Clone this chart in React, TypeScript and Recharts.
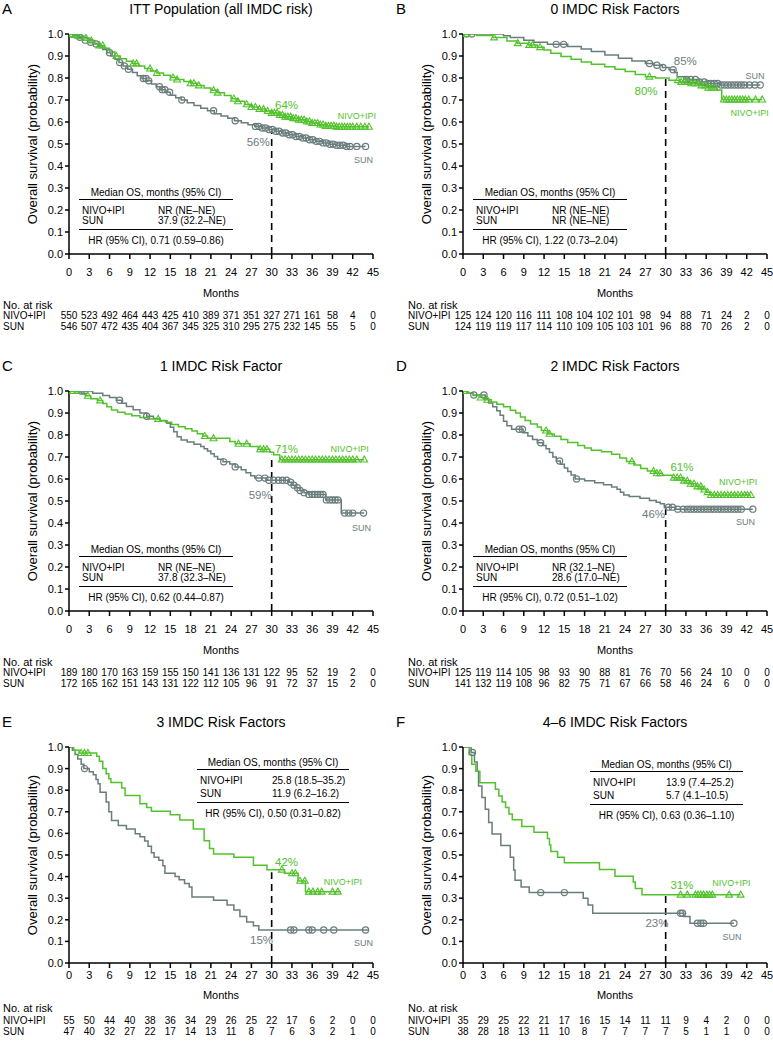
import React from 'react';
import { ComposedChart, Line, Scatter, XAxis, YAxis, ReferenceLine, ReferenceDot } from 'recharts';

type Pt = [number, number];

const FONT = '"Liberation Sans", Arial, Helvetica, sans-serif';
const GREEN = '#52C22C';
const GRAY = '#6A7D7D';

const monthTicks = [0, 3, 6, 9, 12, 15, 18, 21, 24, 27, 30, 33, 36, 39, 42, 45];
const yTicks = [0, 0.1, 0.2, 0.3, 0.4, 0.5, 0.6, 0.7, 0.8, 0.9, 1.0];

// ---------- Panel A ----------
const nivoA: Pt[] = [[0,1],[0.8,0.996],[1.5,0.99],[2.2,0.982],[3,0.97],[3.8,0.958],[4.5,0.948],[5.2,0.935],[6,0.918],[6.8,0.9],[7.6,0.888],[8.5,0.876],[9.4,0.866],[10.3,0.855],[11.2,0.843],[12.1,0.832],[13,0.823],[14,0.812],[15,0.802],[16,0.793],[17,0.784],[18,0.776],[19,0.766],[20,0.755],[21,0.744],[22,0.733],[23,0.72],[24,0.706],[25,0.694],[26,0.68],[27,0.668],[28,0.659],[29,0.65],[30,0.641],[31,0.632],[32,0.624],[33,0.617],[34,0.61],[35,0.602],[36,0.595],[37,0.588],[38,0.582],[39.5,0.578],[44.4,0.578]];
const sunA: Pt[] = [[0,1],[0.7,0.995],[1.4,0.985],[2.1,0.972],[2.8,0.962],[3.6,0.955],[4.3,0.945],[5,0.93],[5.6,0.915],[6.2,0.9],[6.8,0.885],[7.4,0.87],[8,0.855],[8.7,0.84],[9.4,0.825],[10.1,0.81],[10.8,0.798],[11.5,0.787],[12.2,0.773],[12.9,0.76],[13.6,0.747],[14.3,0.735],[15,0.722],[15.8,0.71],[16.6,0.7],[17.5,0.688],[18.5,0.675],[19.5,0.663],[20.5,0.651],[21.5,0.638],[22.5,0.627],[23.5,0.617],[24.5,0.606],[25.5,0.597],[26.5,0.588],[27.5,0.58],[28.5,0.573],[29.5,0.566],[30.5,0.558],[31.5,0.55],[32.5,0.542],[33.5,0.534],[34.5,0.527],[35.5,0.519],[36.5,0.512],[37.5,0.505],[38.5,0.499],[39.5,0.494],[41,0.489],[43.9,0.489]];
const nivoCensA = [0.4,0.9,1.6,2.5,3.3,4.5,5,7,9.5,10,12,13,15.4,16,18,18.5,19.2,21.4,22,24.4,25,26.3,27,27.6,28.2,28.8,29.4,30,30.4,30.8,31.2,31.6,32,32.4,32.8,33.2,33.6,34,34.4,34.8,35.2,35.6,36,36.4,36.8,37.2,37.6,38,38.4,38.8,39.2,39.6,40,40.4,40.8,41.2,41.6,42,42.6,43.2,43.8,44.4];
const sunCensA = [0.4,1,1.6,2.4,3.2,4,6,7.5,8.2,8.8,11,11.4,11.8,13.4,13.8,14.2,14.9,16.7,21.4,24.6,27.6,28.1,28.6,29.1,29.6,30.1,30.6,31.1,31.6,32.1,32.6,33.1,33.6,34.1,34.6,35.1,35.6,36.1,36.6,37.1,37.6,38.1,38.6,39.1,39.6,40.1,40.6,41.1,41.6,42.6,43.9];
const riskNivoA = [550,523,492,464,443,425,410,389,371,351,327,271,161,58,4,0];
const riskSunA = [546,507,472,435,404,367,345,325,310,295,275,232,145,55,5,0];
const medA = ['NR (NE–NE)', '37.9 (32.2–NE)', 'HR (95% CI), 0.71 (0.59–0.86)'];
const labA: [number, number, string, 'n' | 's', number][] = [[30.5,0.68,'64%','n',11.5],[26.3,0.51,'56%','s',11.5],[39.8,0.63,'NIVO+IPI','n',9],[42.2,0.43,'SUN','s',9]];

// ---------- Panel B ----------
const nivoB: Pt[] = [[0,1],[2,0.993],[4.4,0.984],[6.5,0.968],[8,0.958],[9.7,0.95],[11,0.94],[12,0.927],[13,0.913],[14.5,0.898],[16,0.885],[17.5,0.873],[19,0.862],[21,0.851],[22.5,0.84],[24,0.829],[25.5,0.816],[27,0.806],[28.5,0.8],[30.5,0.79],[32,0.782],[33.5,0.776],[35,0.766],[36.3,0.756],[37.5,0.745],[38.3,0.702],[44.3,0.702]];
const sunB: Pt[] = [[0,1],[6,0.992],[7,0.984],[9,0.972],[10.5,0.962],[12.5,0.953],[15.5,0.943],[17.5,0.932],[19,0.92],[21,0.905],[23,0.89],[25,0.877],[27,0.866],[28.3,0.858],[29.5,0.848],[30.5,0.838],[31.3,0.825],[31.7,0.806],[33,0.793],[35,0.782],[36.2,0.775],[38,0.768],[44,0.768]];
const nivoCensB = [0.6,4.6,8.1,9.8,10.3,11.4,27.6,31.8,32.3,32.8,33.3,33.8,34.3,34.8,35.3,35.8,36.3,36.8,37.3,38.6,39,39.4,39.8,40.2,40.6,41,41.4,41.8,42.3,43.3,44.3];
const sunCensB = [0.5,1.3,13.8,14.9,27.6,28.7,29.6,31.1,33.1,33.7,34.4,35,35.7,36.2,36.7,37.2,37.7,38.2,38.7,39.2,39.7,40.2,40.7,41.2,41.7,42.4,43.2,44];
const riskNivoB = [125,124,120,116,111,108,104,102,101,98,94,88,71,24,2,0];
const riskSunB = [124,119,119,117,114,110,109,105,103,101,96,88,70,26,2,0];
const medB = ['NR (NE–NE)', 'NR (NE–NE)', 'HR (95% CI), 1.22 (0.73–2.04)'];
const labB: [number, number, string, 'n' | 's', number][] = [[31.2,0.88,'85%','s',11.5],[25.4,0.74,'80%','n',11.5],[41.8,0.81,'SUN','s',9],[39.6,0.64,'NIVO+IPI','n',9]];

// ---------- Panel C ----------
const nivoC: Pt[] = [[0,1],[1.6,0.99],[2.4,0.978],[3.2,0.965],[4.2,0.957],[5,0.943],[5.6,0.928],[6.3,0.914],[7.2,0.903],[8.3,0.895],[9.3,0.888],[10.5,0.88],[11.7,0.873],[13.5,0.866],[14.3,0.858],[15.2,0.848],[16.2,0.838],[17.2,0.828],[18.2,0.818],[19,0.806],[19.8,0.795],[20.5,0.785],[23.8,0.77],[24.6,0.76],[26.8,0.748],[28,0.735],[29.7,0.722],[30.3,0.71],[31.2,0.688],[43.7,0.688]];
const sunC: Pt[] = [[0,1],[3.5,0.99],[5,0.98],[6,0.97],[7,0.958],[7.8,0.944],[8.5,0.93],[9.5,0.915],[10.5,0.9],[11.5,0.885],[12.5,0.875],[13.5,0.865],[14.5,0.853],[15,0.835],[15.5,0.815],[16,0.792],[16.6,0.777],[17.5,0.768],[18.5,0.758],[19.5,0.748],[20,0.738],[20.5,0.727],[21,0.715],[21.5,0.702],[22,0.69],[22.8,0.678],[23.8,0.668],[24.6,0.655],[25.5,0.642],[26.2,0.628],[26.9,0.615],[27.5,0.604],[29.2,0.594],[32.5,0.585],[33,0.572],[33.6,0.56],[34.2,0.548],[34.8,0.538],[35.5,0.53],[38,0.505],[40.3,0.445],[43.7,0.445]];
const nivoCensC = [0.6,1.2,2.8,4.6,13.2,20.1,21.4,25.1,26.3,28.3,28.8,29.3,31.5,32,32.5,33,33.5,34,34.5,35,35.5,36,36.5,37,37.5,38,38.5,39,39.5,40,40.5,41,41.5,42,42.6,43.7];
const sunCensC = [1.8,2.3,7.5,11.5,22.9,24.6,28.1,29,29.6,30.3,31,31.6,32.2,32.8,33.3,33.8,34.2,34.8,35.5,36,36.4,36.8,37.2,37.6,38.1,38.6,39,39.4,39.8,40.8,41.4,42,43.6];
const riskNivoC = [189,180,170,163,159,155,150,141,136,131,122,95,52,19,2,0];
const riskSunC = [172,165,162,151,143,131,122,112,105,96,91,72,37,15,2,0];
const medC = ['NR (NE–NE)', '37.8 (32.3–NE)', 'HR (95% CI), 0.62 (0.44–0.87)'];
const labC: [number, number, string, 'n' | 's', number][] = [[30.5,0.736,'71%','n',11.5],[26.6,0.53,'59%','s',11.5],[38.7,0.736,'NIVO+IPI','n',9],[41.9,0.38,'SUN','s',9]];

// ---------- Panel D ----------
const nivoD: Pt[] = [[0,1],[0.8,0.99],[1.5,0.98],[2.5,0.97],[3.2,0.96],[4.2,0.95],[5,0.94],[6,0.928],[7,0.912],[7.8,0.9],[8.5,0.882],[9.2,0.866],[10,0.85],[11,0.836],[11.6,0.82],[12.5,0.805],[13.5,0.794],[14.5,0.78],[15.5,0.766],[17,0.752],[18,0.741],[19,0.731],[20.5,0.724],[22,0.712],[23.2,0.695],[24.2,0.68],[25.3,0.664],[26.3,0.648],[27.3,0.636],[28.3,0.626],[29.5,0.617],[31,0.606],[32.5,0.592],[33.5,0.578],[34.5,0.566],[35.3,0.552],[36,0.54],[36.6,0.527],[42.6,0.527]];
const sunD: Pt[] = [[0,1],[0.6,0.99],[1.5,0.982],[3.3,0.965],[3.8,0.945],[4.4,0.928],[5,0.91],[5.5,0.89],[6,0.862],[6.5,0.842],[7.2,0.826],[8.9,0.81],[9.6,0.795],[10.3,0.78],[11,0.765],[11.8,0.752],[12.3,0.738],[12.8,0.72],[13.3,0.7],[13.8,0.682],[14.4,0.667],[15,0.65],[15.5,0.634],[16,0.618],[16.6,0.6],[18,0.592],[19.5,0.583],[20.8,0.574],[22,0.564],[22.8,0.553],[23.3,0.54],[23.8,0.527],[24.6,0.52],[26.2,0.512],[27.6,0.502],[28.6,0.494],[29.2,0.487],[29.8,0.472],[31.5,0.463],[42.9,0.463]];
const nivoCensD = [0.4,2.6,3.6,12.3,12.8,25,28.2,28.7,29.2,31.2,31.7,32.2,32.7,33.2,33.7,34.2,34.7,35.2,35.7,36.2,36.7,37.2,37.7,38.2,38.7,39.2,39.7,40.2,40.7,41.2,41.7,42.1,42.6];
const sunCensD = [1.6,3.1,8.3,8.8,11.5,14.3,16.8,30.4,31,31.8,32.6,33.2,33.7,34.2,34.7,35.2,35.7,36.2,36.7,37.2,37.7,38.2,38.7,39.2,39.7,40.2,40.7,41.2,42.9];
const riskNivoD = [125,119,114,105,98,93,90,88,81,76,70,56,24,10,0,0];
const riskSunD = [141,132,119,108,96,82,75,71,67,66,58,46,24,6,0,0];
const medD = ['NR (32.1–NE)', '28.6 (17.0–NE)', 'HR (95% CI), 0.72 (0.51–1.02)'];
const labD: [number, number, string, 'n' | 's', number][] = [[30.7,0.656,'61%','n',11.5],[26.5,0.443,'46%','s',11.5],[37.9,0.587,'NIVO+IPI','n',9],[40.4,0.405,'SUN','s',9]];

// ---------- Panel E ----------
const nivoE: Pt[] = [[0,1],[0.7,0.985],[1.5,0.972],[4.1,0.957],[4.5,0.934],[5,0.9],[5.5,0.876],[5.9,0.853],[6.2,0.836],[7.8,0.81],[8.3,0.775],[10.5,0.737],[11.5,0.72],[12.2,0.702],[15,0.686],[16.4,0.662],[18.4,0.62],[20,0.566],[20.8,0.53],[21.4,0.505],[24.4,0.49],[27.3,0.452],[29.3,0.432],[31.9,0.415],[33.9,0.38],[35,0.33],[40.2,0.33]];
const sunE: Pt[] = [[0,1],[0.5,0.985],[0.9,0.965],[1.3,0.945],[1.8,0.92],[2.2,0.9],[3,0.885],[3.6,0.872],[4,0.85],[4.3,0.83],[4.6,0.79],[5.5,0.745],[5.9,0.7],[6.3,0.66],[7.3,0.636],[8.5,0.62],[9.8,0.598],[10.5,0.584],[11.2,0.565],[11.7,0.54],[12.2,0.51],[12.6,0.49],[13.3,0.476],[13.9,0.45],[14.2,0.415],[15.7,0.4],[16.3,0.385],[17.1,0.368],[17.8,0.352],[18.2,0.306],[21.4,0.29],[23.4,0.268],[24.4,0.245],[25.3,0.215],[26.3,0.19],[27.3,0.173],[28.1,0.153],[44.3,0.153]];
const nivoCensE = [1.8,2.3,2.8,31.5,33,33.5,34.2,34.9,35.5,36.1,36.8,37.4,39,39.8];
const sunCensE = [2.3,32.8,33.3,35.5,36,37.7,39.2,43.9];
const riskNivoE = [55,50,44,40,38,36,34,29,26,25,22,17,6,2,0,0];
const riskSunE = [47,40,32,27,22,17,14,13,11,8,7,6,3,2,1,0];
const medE = ['25.8 (18.5–35.2)', '11.9 (6.2–16.2)', 'HR (95% CI), 0.50 (0.31–0.82)'];
const labE: [number, number, string, 'n' | 's', number][] = [[30.5,0.467,'42%','n',11.5],[26.8,0.107,'15%','s',11.5],[37.7,0.378,'NIVO+IPI','n',9],[42.2,0.092,'SUN','s',9]];

// ---------- Panel F ----------
const nivoF: Pt[] = [[0,1],[0.9,0.965],[1.3,0.92],[1.9,0.888],[2.5,0.834],[4.8,0.804],[5.3,0.773],[5.8,0.745],[6.3,0.72],[6.8,0.69],[7.3,0.663],[8.7,0.632],[10.5,0.605],[12.5,0.576],[12.8,0.546],[13,0.516],[14,0.49],[15,0.464],[20.2,0.433],[22.5,0.402],[25.2,0.375],[25.5,0.345],[26.5,0.316],[41.1,0.316]];
const sunF: Pt[] = [[0,1],[1.2,0.975],[1.7,0.93],[2.1,0.888],[2.3,0.82],[2.8,0.766],[3.3,0.712],[3.8,0.65],[4.3,0.597],[5.6,0.544],[7,0.49],[7.5,0.43],[7.7,0.383],[8.6,0.352],[9.8,0.326],[17.8,0.3],[18.5,0.268],[19.2,0.23],[32.7,0.215],[33.6,0.184],[40.1,0.184]];
const nivoCensF = [32.2,33.2,34.4,34.8,35.2,35.6,36.1,36.5,36.9,39.4,41.1];
const sunCensF = [1.4,11.5,15,32.2,32.5,34.7,35.2,35.6,40.1];
const riskNivoF = [35,29,25,22,21,17,16,15,14,11,11,9,4,2,0,0];
const riskSunF = [38,28,18,13,11,10,8,7,7,7,7,5,1,1,0,0];
const medF = ['13.9 (7.4–25.2)', '5.7 (4.1–10.5)', 'HR (95% CI), 0.63 (0.36–1.10)'];
const labF: [number, number, string, 'n' | 's', number][] = [[30.7,0.36,'31%','n',11.5],[27,0.184,'23%','s',11.5],[36.9,0.372,'NIVO+IPI','n',9],[38.4,0.123,'SUN','s',9]];

const letters = ['A', 'B', 'C', 'D', 'E', 'F'];
const titles = ['ITT Population (all IMDC risk)', '0 IMDC Risk Factors', '1 IMDC Risk Factor', '2 IMDC Risk Factors', '3 IMDC Risk Factors', '4–6 IMDC Risk Factors'];
const dashTops = [0.56, 0.8, 0.71, 0.47, 0.42, 0.31];

function stepAt(curve: Pt[], t: number): number {
  let v = curve[0][1];
  for (const [x, y] of curve) {
    if (x <= t) v = y;
    else break;
  }
  return v;
}

const Tri = (props: any) => {
  const { cx, cy } = props;
  if (cx == null || cy == null) return null;
  return <path d={`M${cx},${cy - 3.6}L${cx + 3.4},${cy + 2.4}L${cx - 3.4},${cy + 2.4}Z`} fill="none" stroke={GREEN} strokeWidth={1.1} />;
};
const Circ = (props: any) => {
  const { cx, cy } = props;
  if (cx == null || cy == null) return null;
  return <circle cx={cx} cy={cy} r={3.1} fill="none" stroke={GRAY} strokeWidth={1.2} />;
};

type PanelDef = {
  letter: string; title: string; nivo: Pt[]; sun: Pt[]; nivoCens: number[]; sunCens: number[];
  riskNivo: number[]; riskSun: number[]; med: string[]; labs: [number, number, string, 'n' | 's', number][];
  dashTop: number; tableLeft: number; tableTop: number; tableW: number; valOff: number; rowGap: number;
};

const panels: PanelDef[] = [
  { letter: letters[0], title: titles[0], nivo: nivoA, sun: sunA, nivoCens: nivoCensA, sunCens: sunCensA, riskNivo: riskNivoA, riskSun: riskSunA, med: medA, labs: labA, dashTop: dashTops[0], tableLeft: 79, tableTop: 200, tableW: 154, valOff: 79, rowGap: 10 },
  { letter: letters[1], title: titles[1], nivo: nivoB, sun: sunB, nivoCens: nivoCensB, sunCens: sunCensB, riskNivo: riskNivoB, riskSun: riskSunB, med: medB, labs: labB, dashTop: dashTops[1], tableLeft: 79, tableTop: 200, tableW: 154, valOff: 79, rowGap: 10 },
  { letter: letters[2], title: titles[2], nivo: nivoC, sun: sunC, nivoCens: nivoCensC, sunCens: sunCensC, riskNivo: riskNivoC, riskSun: riskSunC, med: medC, labs: labC, dashTop: dashTops[2], tableLeft: 79, tableTop: 200, tableW: 154, valOff: 79, rowGap: 10 },
  { letter: letters[3], title: titles[3], nivo: nivoD, sun: sunD, nivoCens: nivoCensD, sunCens: sunCensD, riskNivo: riskNivoD, riskSun: riskSunD, med: medD, labs: labD, dashTop: dashTops[3], tableLeft: 79, tableTop: 200, tableW: 154, valOff: 79, rowGap: 10 },
  { letter: letters[4], title: titles[4], nivo: nivoE, sun: sunE, nivoCens: nivoCensE, sunCens: sunCensE, riskNivo: riskNivoE, riskSun: riskSunE, med: medE, labs: labE, dashTop: dashTops[4], tableLeft: 197, tableTop: 57, tableW: 152, valOff: 75, rowGap: 13 },
  { letter: letters[5], title: titles[5], nivo: nivoF, sun: sunF, nivoCens: nivoCensF, sunCens: sunCensF, riskNivo: riskNivoF, riskSun: riskSunF, med: medF, labs: labF, dashTop: dashTops[5], tableLeft: 196, tableTop: 59, tableW: 153, valOff: 76, rowGap: 13 },
];

type RowLayout = { top: number; plotH: number; axH: number; tickMargin: number; monthsOff: number; noRiskOff: number };
const rowLayouts: RowLayout[] = [
  { top: 0, plotH: 220, axH: 58, tickMargin: 9, monthsOff: 15, noRiskOff: 51 },
  { top: 357, plotH: 220, axH: 58, tickMargin: 9, monthsOff: 15, noRiskOff: 51 },
  { top: 713, plotH: 216, axH: 54, tickMargin: 3, monthsOff: 18, noRiskOff: 45 },
];

const PLOT_TOP = 34;
const RISK_AX_H = 11;
const CHART_W = 388;
const RISK_FS = 10;

function Panel({ p, left, row, rowLabelX }: { p: PanelDef; left: number; row: RowLayout; rowLabelX: number }) {
  const nivoData = p.nivo.map(([t, s]) => ({ t, s }));
  const sunData = p.sun.map(([t, s]) => ({ t, s }));
  const nivoCensData = p.nivoCens.map((t) => ({ t, s: stepAt(p.nivo, t) }));
  const sunCensData = p.sunCens.map((t) => ({ t, s: stepAt(p.sun, t) }));
  const chartH = PLOT_TOP + row.plotH + row.axH + RISK_AX_H * 2 + 4;
  const riskAxis = (id: string, vals: number[]) => (
    <XAxis
      xAxisId={id}
      type="number"
      dataKey="t"
      domain={[0, 45]}
      allowDataOverflow
      ticks={monthTicks}
      interval={0}
      height={RISK_AX_H}
      axisLine={false}
      tickLine={false}
      tickSize={0}
      tickMargin={0}
      tick={{ fontSize: RISK_FS, fill: '#000' }}
      tickFormatter={(v: number) => String(vals[monthTicks.indexOf(v)] ?? '')}
    />
  );
  const plotBottom = PLOT_TOP + row.plotH;
  const rowTop = (capCenter: number, fs: number) => capCenter - 0.49 * fs;
  const tt = p.tableTop;
  const tl = p.tableLeft;
  const TFS = 10;
  const g = p.rowGap;
  return (
    <div style={{ position: 'absolute', left, top: row.top, width: CHART_W, height: 357 }}>
      <ComposedChart width={CHART_W} height={chartH} margin={{ top: PLOT_TOP, right: 15, bottom: 4, left: 0 }}>
        <XAxis
          dataKey="t"
          type="number"
          domain={[0, 45]}
          allowDataOverflow
          ticks={monthTicks}
          interval={0}
          height={row.axH}
          tickSize={5}
          tickMargin={row.tickMargin}
          axisLine={{ stroke: '#000', strokeWidth: 1.5 }}
          tickLine={{ stroke: '#000', strokeWidth: 1.5 }}
          tick={{ fontSize: 11, fill: '#000' }}
          label={{ value: 'Months', position: 'insideBottom', offset: row.monthsOff, fontSize: 11, fill: '#000' }}
        />
        {riskAxis('rn', p.riskNivo)}
        {riskAxis('rs', p.riskSun)}
        <YAxis
          dataKey="s"
          type="number"
          domain={[0, 1]}
          allowDataOverflow
          ticks={yTicks}
          interval={0}
          width={69}
          tickSize={4}
          tickMargin={2}
          axisLine={{ stroke: '#000', strokeWidth: 1.5 }}
          tickLine={{ stroke: '#000', strokeWidth: 1.5 }}
          tick={{ fontSize: 11, fill: '#000' }}
          tickFormatter={(v: number) => v.toFixed(1)}
          label={{ value: 'Overall survival (probability)', angle: -90, position: 'insideLeft', offset: 32, fontSize: 13, fill: '#000', style: { textAnchor: 'middle' } }}
        />
        <ReferenceLine
          segment={[{ x: 30, y: 0 }, { x: 30, y: p.dashTop }]}
          stroke="#000"
          strokeWidth={1.6}
          strokeDasharray="7 5"
        />
        <Line data={sunData} dataKey="s" type="stepAfter" stroke={GRAY} strokeWidth={1.5} dot={false} isAnimationActive={false} />
        <Line data={nivoData} dataKey="s" type="stepAfter" stroke={GREEN} strokeWidth={1.5} dot={false} isAnimationActive={false} />
        <Scatter data={sunCensData} dataKey="s" shape={Circ} isAnimationActive={false} />
        <Scatter data={nivoCensData} dataKey="s" shape={Tri} isAnimationActive={false} />
        {p.labs.map(([t, s, text, who, fs], i) => (
          <ReferenceDot
            key={i}
            x={t}
            y={s}
            r={0}
            shape={(props: any) => (
              <text x={props.cx} y={props.cy} dy="0.36em" fontSize={fs} fill={who === 'n' ? GREEN : GRAY} textAnchor="start">
                {text}
              </text>
            )}
          />
        ))}
      </ComposedChart>
      {/* letter and title */}
      <div style={{ position: 'absolute', left: 2, top: 1, fontSize: 15, lineHeight: '16px' }}>{p.letter}</div>
      <div style={{ position: 'absolute', left: 69, width: 304, top: 1, fontSize: 14, lineHeight: '16px', textAlign: 'center' }}>{p.title}</div>
      {/* median table */}
      <div style={{ position: 'absolute', left: tl, top: rowTop(tt - 7, TFS), width: p.tableW, fontSize: TFS, lineHeight: `${TFS}px`, textAlign: 'center', whiteSpace: 'nowrap' }}>Median OS, months (95% CI)</div>
      <div style={{ position: 'absolute', left: tl, top: tt - 0.75, width: p.tableW, borderTop: '1.5px solid #000' }} />
      <div style={{ position: 'absolute', left: tl + 3, top: rowTop(tt + 11, TFS), fontSize: TFS, lineHeight: `${TFS}px` }}>NIVO+IPI</div>
      <div style={{ position: 'absolute', left: tl + p.valOff, top: rowTop(tt + 11, TFS), fontSize: TFS, lineHeight: `${TFS}px`, whiteSpace: 'nowrap' }}>{p.med[0]}</div>
      <div style={{ position: 'absolute', left: tl + 3, top: rowTop(tt + 11 + g, TFS), fontSize: TFS, lineHeight: `${TFS}px` }}>SUN</div>
      <div style={{ position: 'absolute', left: tl + p.valOff, top: rowTop(tt + 11 + g, TFS), fontSize: TFS, lineHeight: `${TFS}px`, whiteSpace: 'nowrap' }}>{p.med[1]}</div>
      <div style={{ position: 'absolute', left: tl, top: tt + 20 + g - 0.75, width: p.tableW, borderTop: '1.5px solid #000' }} />
      <div style={{ position: 'absolute', left: tl, top: rowTop(tt + 31 + g, TFS), width: p.tableW, fontSize: TFS, lineHeight: `${TFS}px`, textAlign: 'center', whiteSpace: 'nowrap' }}>{p.med[2]}</div>
      {/* at-risk row labels */}
      <div style={{ position: 'absolute', left: rowLabelX, top: rowTop(plotBottom + row.noRiskOff, 11), fontSize: 11, lineHeight: '11px' }}>No. at risk</div>
      <div style={{ position: 'absolute', left: rowLabelX, top: rowTop(plotBottom + row.axH + 0.36 * RISK_FS, RISK_FS), fontSize: RISK_FS, lineHeight: `${RISK_FS}px` }}>NIVO+IPI</div>
      <div style={{ position: 'absolute', left: rowLabelX, top: rowTop(plotBottom + row.axH + RISK_AX_H + 0.36 * RISK_FS, RISK_FS), fontSize: RISK_FS, lineHeight: `${RISK_FS}px` }}>SUN</div>
    </div>
  );
}

export default function App() {
  return (
    <div style={{ position: 'absolute', left: 0, top: 0, width: 773, height: 1050, background: '#fff', fontFamily: FONT, color: '#000', overflow: 'hidden' }}>
      {panels.map((p, i) => (
        <Panel key={i} p={p} left={i % 2 === 0 ? 0 : 394} row={rowLayouts[Math.floor(i / 2)]} rowLabelX={i % 2 === 0 ? 3 : 14} />
      ))}
    </div>
  );
}
